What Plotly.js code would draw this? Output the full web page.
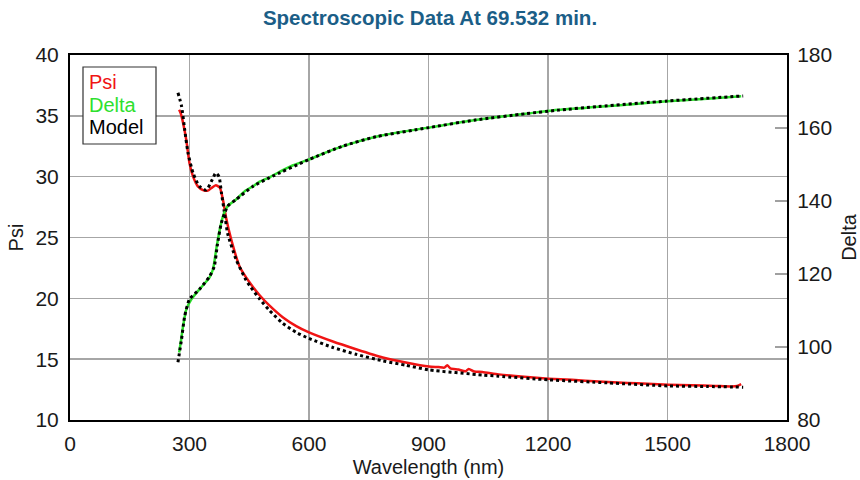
<!DOCTYPE html>
<html>
<head>
<meta charset="utf-8">
<script src="https://cdn.plot.ly/plotly-3.0.1.min.js"></script>
<style>html,body{margin:0;padding:0;background:#fff;}#chart{width:860px;height:480px;}</style>
</head>
<body>
<div id="chart"></div>
<script>
// Measured Psi (red)
const psiWavelength = [274, 278, 284, 292, 300, 309, 321, 334, 346, 355, 366, 376, 384, 392, 405, 426, 451, 476, 501, 534, 568, 600, 660, 718, 785, 843, 901, 925, 940, 947, 955, 975, 993, 1001, 1015, 1035, 1076, 1140, 1202, 1260, 1327, 1400, 1450, 1502, 1560, 1620, 1660, 1675, 1685];
const psiValues     = [35.5, 35.2, 34.4, 33.0, 31.1, 30.0, 29.2, 28.9, 28.85, 29.07, 29.3, 29.1, 28.1, 26.6, 24.8, 22.6, 21.3, 20.25, 19.4, 18.45, 17.72, 17.2, 16.45, 15.82, 15.14, 14.73, 14.4, 14.35, 14.3, 14.5, 14.25, 14.15, 14.0, 14.2, 13.98, 13.95, 13.75, 13.55, 13.4, 13.3, 13.17, 13.05, 12.98, 12.9, 12.85, 12.8, 12.76, 12.8, 12.95];

// Measured Delta (green)
const deltaWavelength = [274, 279, 284, 292, 305, 325, 350, 359, 367, 376, 384, 396, 417, 440, 459, 476, 501, 526, 560, 601, 640, 684, 720, 768, 830, 901, 960, 1018, 1080, 1143, 1227, 1327, 1420, 1500, 1600, 1685];
const deltaValues     = [98.5, 102, 105.8, 110.3, 113.1, 115.8, 119.0, 121.3, 126.7, 132.2, 135.8, 138.6, 140.4, 142.8, 144.0, 145.3, 146.5, 148.0, 149.8, 151.4, 153.2, 154.95, 156.2, 157.6, 158.9, 160.1, 161.2, 162.2, 163.1, 163.9, 165.0, 165.8, 166.6, 167.3, 168.0, 168.7];

// Model fits (black dotted)
const modelPsiWavelength = [271, 280, 288, 296, 309, 325, 342, 357, 366, 374, 380, 388, 396, 417, 442, 451, 476, 501, 534, 568, 600, 660, 718, 785, 843, 901, 1035, 1076, 1202, 1350, 1502, 1600, 1690];
const modelPsiValues     = [36.9, 35.8, 33.85, 32.0, 30.3, 29.2, 28.9, 29.75, 30.3, 30.0, 28.7, 27.0, 25.3, 23.2, 21.5, 21.05, 19.95, 19.0, 17.95, 17.2, 16.7, 15.96, 15.4, 14.86, 14.5, 14.12, 13.7, 13.6, 13.3, 13.05, 12.8, 12.75, 12.7];
const modelDeltaWavelength = [271, 280, 288, 300, 325, 350, 362, 370, 380, 396, 417, 459, 501, 601, 684, 768, 901, 1018, 1143, 1227, 1327, 1500, 1690];
const modelDeltaValues     = [95.8, 102.1, 108.5, 113.1, 115.8, 119.3, 122.0, 128.0, 134.0, 138.6, 140.4, 144.0, 146.4, 151.4, 155.0, 157.6, 160.1, 162.2, 163.9, 164.9, 165.9, 167.4, 168.8];

const xTicks = [0, 300, 600, 900, 1200, 1500, 1800];
const psiTicks = [10, 15, 20, 25, 30, 35, 40];
const deltaTicks = [80, 100, 120, 140, 160, 180];
const legendLabels = ['Psi', 'Delta', 'Model'];
const legendColors = ['#f01414', '#2ee02e', '#000000'];

const FONT = 'Liberation Sans, Arial, sans-serif';

const traces = [
  {x: psiWavelength, y: psiValues, type: 'scatter', mode: 'lines', name: 'Psi',
   line: {color: legendColors[0], width: 2.5, shape: 'spline', smoothing: 0.6}, yaxis: 'y'},
  {x: deltaWavelength, y: deltaValues, type: 'scatter', mode: 'lines', name: 'Delta',
   line: {color: legendColors[1], width: 2.5, shape: 'spline', smoothing: 0.6}, yaxis: 'y2'},
  {x: modelPsiWavelength, y: modelPsiValues, type: 'scatter', mode: 'lines', name: 'Model',
   line: {color: '#000', width: 3, dash: 'dot', shape: 'spline', smoothing: 0.6}, yaxis: 'y'},
  {x: modelDeltaWavelength, y: modelDeltaValues, type: 'scatter', mode: 'lines', name: 'Model',
   line: {color: '#000', width: 3, dash: 'dot', shape: 'spline', smoothing: 0.6}, yaxis: 'y2'}
];

const annotations = legendLabels.map((t, i) => ({
  text: t, xref: 'paper', yref: 'paper',
  x: (87 - 70) / 717, y: 1 - (82 + i * 22.5 - 55) / 365,
  xanchor: 'left', yanchor: 'middle', showarrow: false,
  font: {family: FONT, size: 20, color: legendColors[i]}
}));

const layout = {
  width: 860, height: 480,
  margin: {l: 70, r: 73, t: 55, b: 60},
  paper_bgcolor: '#fff', plot_bgcolor: '#fff',
  showlegend: false,
  font: {family: FONT, color: '#1a1a1a', size: 21},
  title: {text: '<b>Spectroscopic Data At 69.532 min.</b>', x: 0.5, xanchor: 'center',
          y: 1 - 18 / 480, yref: 'container', yanchor: 'middle',
          font: {family: FONT, size: 20.5, color: '#1b5e87'}},
  xaxis: {range: [0, 1800], tickvals: xTicks, ticktext: xTicks.map(String),
          showgrid: true, gridcolor: '#a6a6a6', gridwidth: 1.5,
          showline: true, linecolor: '#000', linewidth: 2, mirror: true,
          ticks: '', ticklabelstandoff: 4, zeroline: false,
          title: {text: 'Wavelength (nm)', font: {size: 20}, standoff: 6}},
  yaxis: {range: [10, 40], tickvals: psiTicks, ticktext: psiTicks.map(String),
          showgrid: true, gridcolor: '#a6a6a6', gridwidth: 1.5,
          showline: true, linecolor: '#000', linewidth: 2, mirror: true,
          ticks: '', ticklabelstandoff: 5, zeroline: false,
          title: {text: 'Psi', font: {size: 20}, standoff: 6}},
  yaxis2: {range: [80, 180], tickvals: deltaTicks, ticktext: deltaTicks.map(String),
           overlaying: 'y', side: 'right', showgrid: false, zeroline: false,
           showline: true, linecolor: '#000', linewidth: 2,
           ticks: 'inside', ticklen: 12, tickcolor: '#a0a0a0', tickwidth: 1.5,
           ticklabelstandoff: 4,
           title: {text: 'Delta', font: {size: 20}, standoff: 12}},
  shapes: [{type: 'rect', xref: 'paper', yref: 'paper',
            x0: (83 - 70) / 717, x1: (156 - 70) / 717,
            y0: 1 - (144 - 55) / 365, y1: 1 - (67 - 55) / 365,
            line: {color: '#333', width: 1.2}, fillcolor: '#fff', layer: 'above'}],
  annotations: annotations
};

Plotly.newPlot('chart', traces, layout, {displayModeBar: false, staticPlot: true});
</script>
</body>
</html>
